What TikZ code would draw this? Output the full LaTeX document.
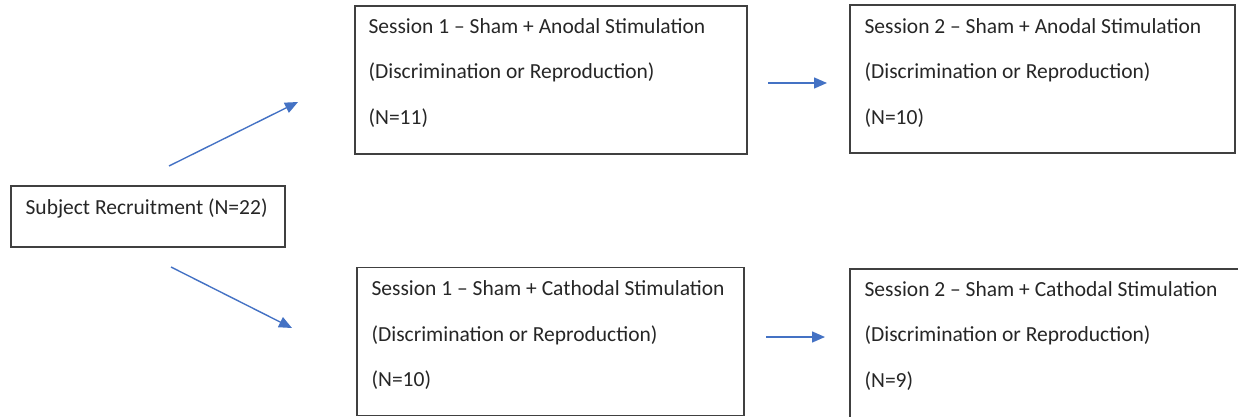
\documentclass[tikz,border=0pt]{standalone}
\usepackage{fontspec}
\setmainfont{Carlito}
\usetikzlibrary{calc, arrows.meta}

\definecolor{arrowblue}{HTML}{4472C4}
\definecolor{boxgray}{HTML}{404040}
\definecolor{textgray}{HTML}{262626}

\tikzset{
  box/.style={draw=boxgray, line width=1.2pt, inner sep=0pt},
  txt/.style={text=textgray, inner sep=0pt, align=left, anchor=base west,
    font=\fontsize{21.5}{45.5}\selectfont},
  flow/.style={arrowblue, line width=1.4pt, -{Triangle[length=13pt,width=11pt]}}
}

\begin{document}
\begin{tikzpicture}[x=1pt, y=-1pt]
\useasboundingbox (0,0) rectangle (1238,417);

% boxes
\node[box, minimum width=274, minimum height=61] (rec) at (148,216.5) {};
\node[box, minimum width=392, minimum height=148] (s1a) at (551,80) {};
\node[box, minimum width=385, minimum height=148] (s2a) at (1042.5,79) {};
\node[box, minimum width=387, minimum height=148] (s1c) at (550.5,341.5) {};
\node[box, minimum width=392, minimum height=151] (s2c) at (1046,344.5) {};

% texts (base = last line)
\node[txt] (rec-txt) at ($(rec.north west)+(15,29)$) {Subject Recruitment (N=22)};
\node[txt] (s1a-txt) at ($(s1a.north west)+(14,119)$)
  {Session 1 -- Sham + Anodal Stimulation\\(Discrimination or Reproduction)\\(N=11)};
\node[txt] (s2a-txt) at ($(s2a.north west)+(15,120)$)
  {Session 2 -- Sham + Anodal Stimulation\\(Discrimination or Reproduction)\\(N=10)};
\node[txt] (s1c-txt) at ($(s1c.north west)+(15,120)$)
  {Session 1 -- Sham + Cathodal Stimulation\\(Discrimination or Reproduction)\\(N=10)};
\node[txt] (s2c-txt) at ($(s2c.north west)+(15,119)$)
  {Session 2 -- Sham + Cathodal Stimulation\\(Discrimination or Reproduction)\\(N=9)};

% arrows
\coordinate (up-from) at (169,166);
\coordinate (up-to) at (298,102);
\coordinate (dn-from) at (171,267);
\coordinate (dn-to) at (292,328);
\coordinate (ta-from) at (768,83);
\coordinate (ta-to) at (827,83);
\coordinate (tc-from) at (766,337);
\coordinate (tc-to) at (825,337);

\draw[flow] (up-from) -- (up-to);
\draw[flow] (dn-from) -- (dn-to);
\draw[flow] (ta-from) -- (ta-to);
\draw[flow] (tc-from) -- (tc-to);

\end{tikzpicture}
\end{document}
